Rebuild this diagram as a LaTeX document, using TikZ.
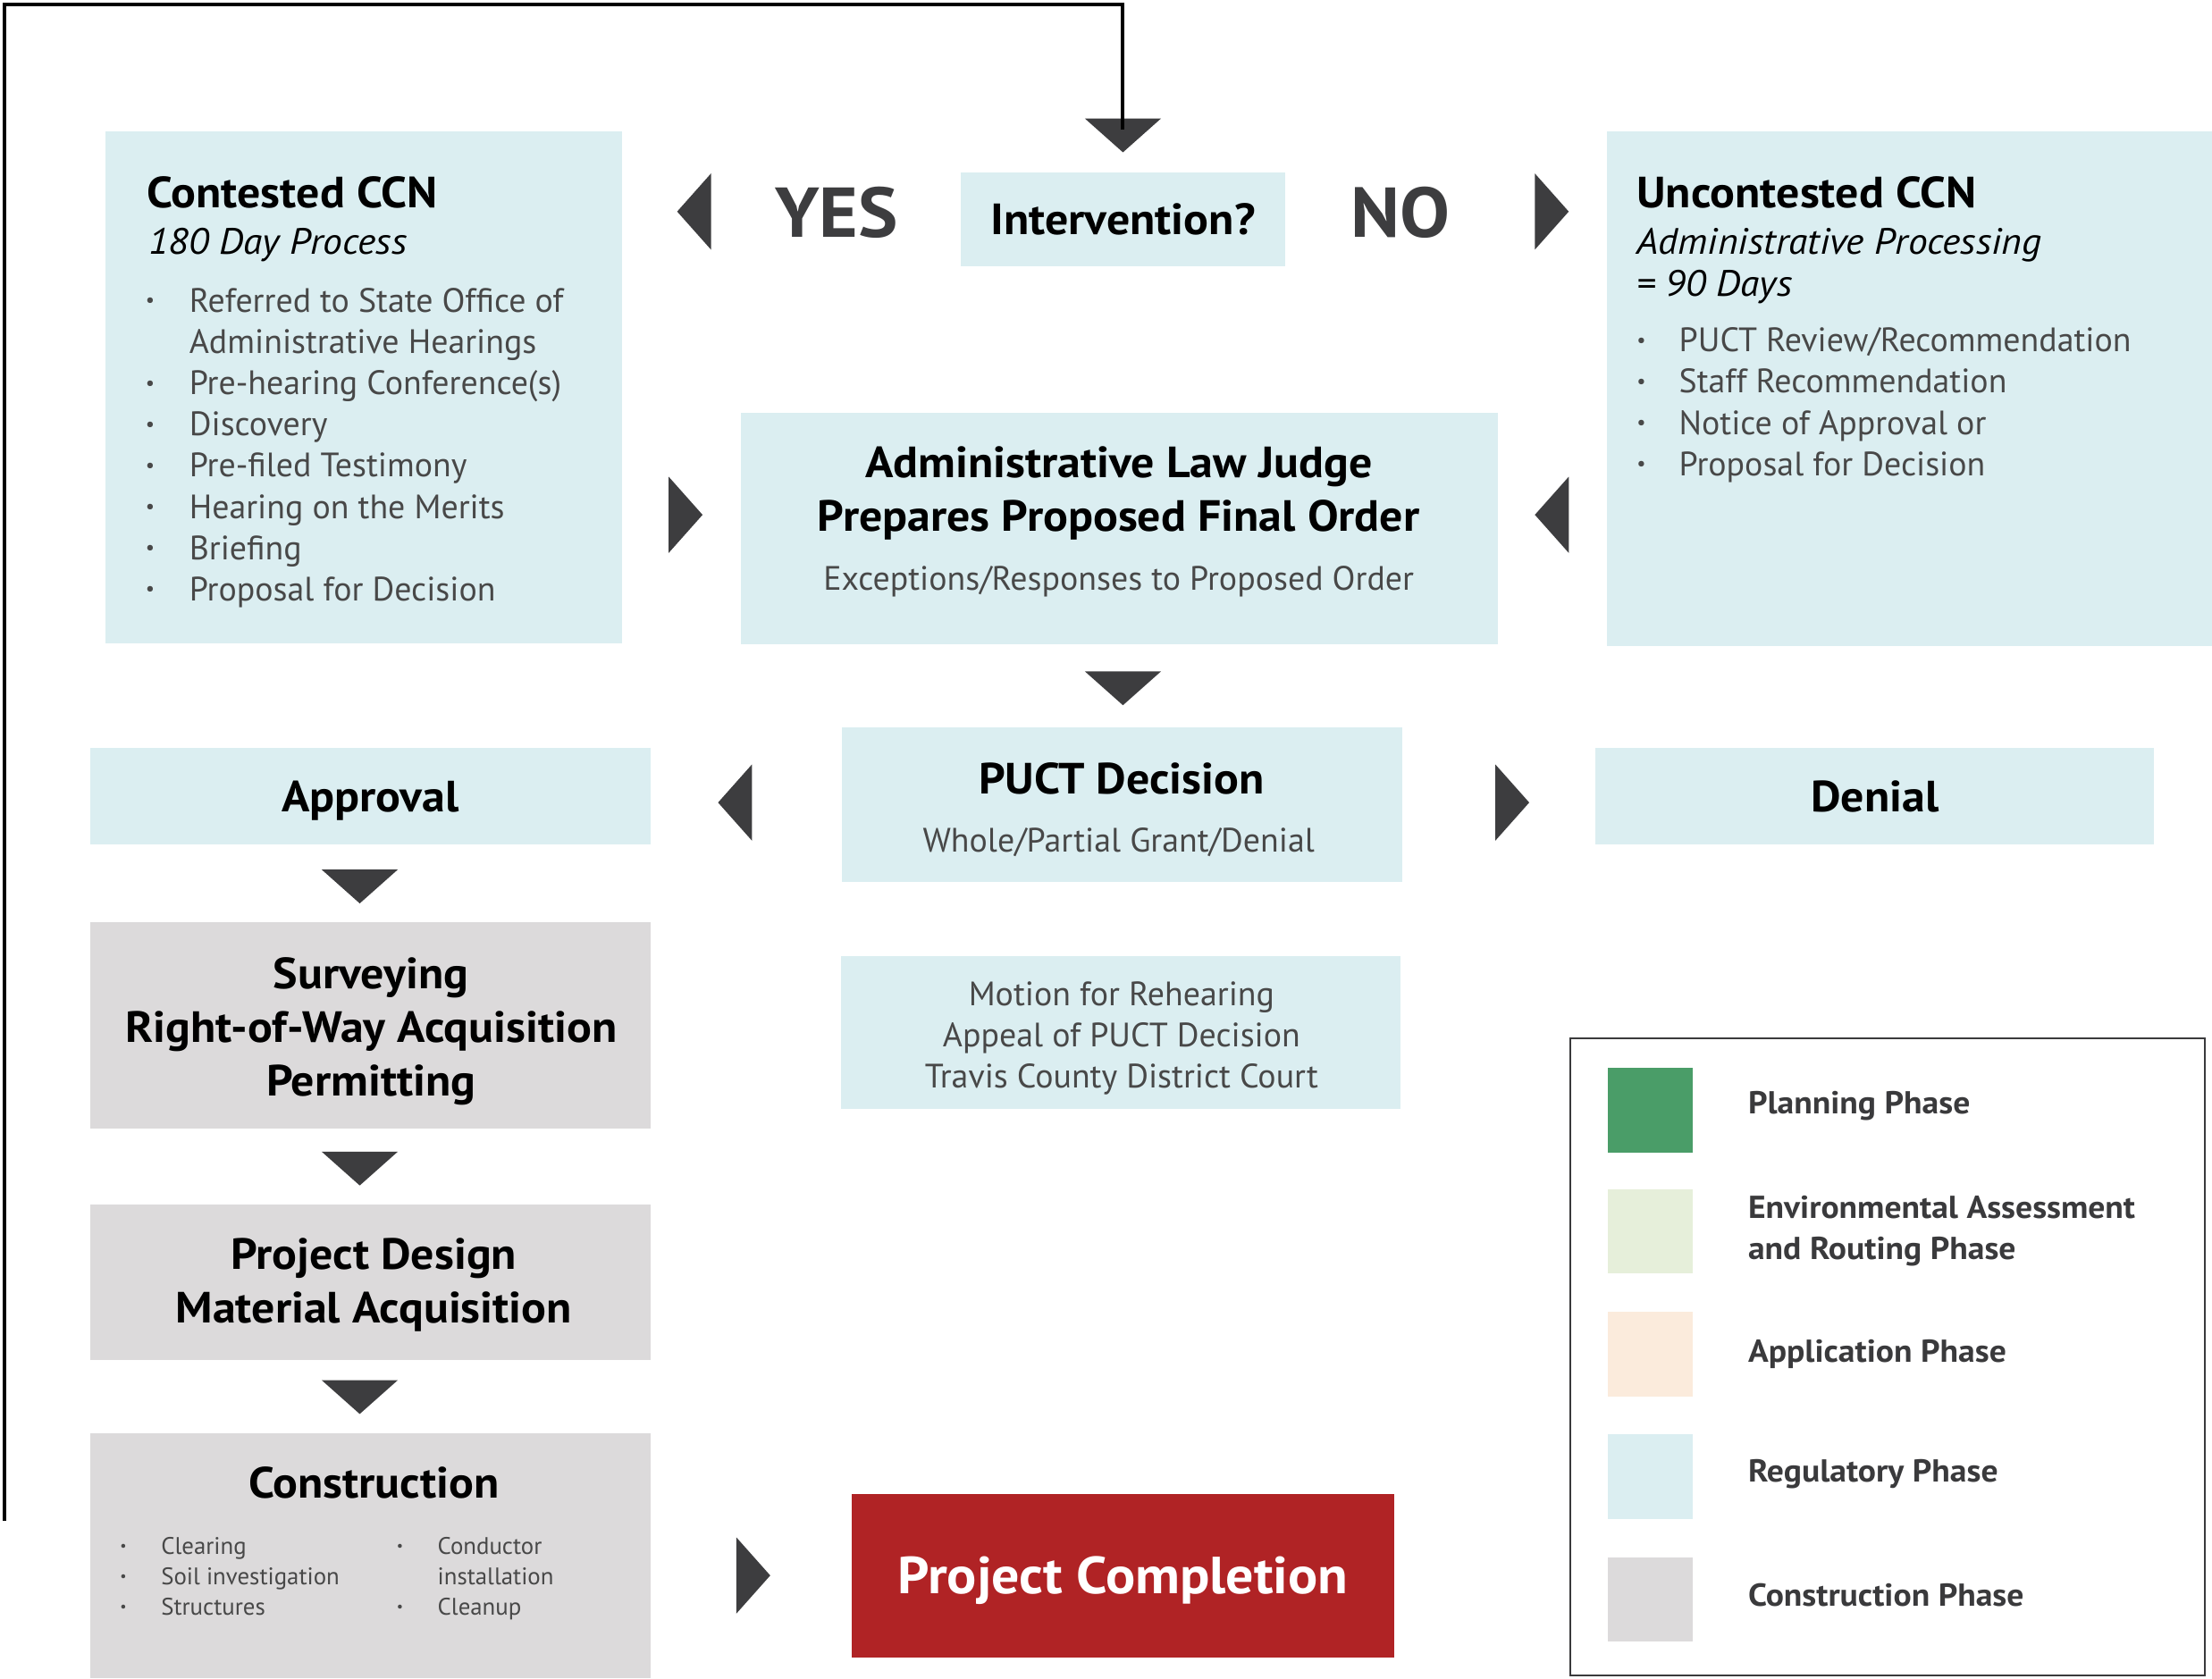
\documentclass[tikz,border=0pt]{standalone}
\usepackage{fontspec}
\setmainfont{PT Sans}[BoldFeatures={FakeStretch=1.06},ItalicFeatures={FakeStretch=1.06}]
\usetikzlibrary{calc}

\definecolor{regblue}{HTML}{DBEEF1}
\definecolor{congray}{HTML}{DCDADB}
\definecolor{arrowgray}{HTML}{3D3D3F}
\definecolor{bodygray}{HTML}{484848}
\definecolor{doneRed}{HTML}{B02325}
\definecolor{plangreen}{HTML}{4A9D68}
\definecolor{envgreen}{HTML}{E6EFDA}
\definecolor{apppeach}{HTML}{FBEBDC}
\definecolor{leggray}{HTML}{3A3A3C}

\newcommand{\bul}{\raisebox{0.3ex}{\scalebox{0.6}{\textbullet}}}

\begin{document}
\begin{tikzpicture}[x=1pt,y=-1pt,line join=miter,
  box/.style={anchor=north west,inner sep=0pt,outer sep=0pt},
  regbox/.style={box,fill=regblue},
  conbox/.style={box,fill=congray},
  head/.style={font=\bfseries\fontsize{31}{38}\selectfont,text=black,inner sep=0pt},
  body/.style={font=\fontsize{24}{29.2}\selectfont,text=bodygray,inner sep=0pt},
  subit/.style={font=\itshape\fontsize{26}{30}\selectfont,text=black,inner sep=0pt},
  smalltxt/.style={font=\fontsize{17}{21.5}\selectfont,text=bodygray,inner sep=0pt},
  yesno/.style={font=\bfseries\fontsize{50}{60}\selectfont,text=arrowgray,inner sep=0pt},
  legtxt/.style={font=\bfseries\fontsize{22.5}{29}\selectfont,text=leggray,inner sep=0pt,anchor=west,align=left},
  pointer/.style={fill=arrowgray},
  loopline/.style={line width=2.5pt,black},
  tridown/.pic={\fill[pointer] (-27,-12) -- (27,-12) -- (0,12) -- cycle;},
  trileft/.pic={\fill[pointer] (12,-27) -- (12,27) -- (-12,0) -- cycle;},
  triright/.pic={\fill[pointer] (-12,-27) -- (-12,27) -- (12,0) -- cycle;}]

  \useasboundingbox (0,0) rectangle (1568,1190);

  %-------------------------
  % Intervention question
  %-------------------------
  \node[regbox,head,minimum width=230,minimum height=67] (interv) at (681,122) {Intervention?};
  \node[yesno] (yes) at (593,151) {YES};
  \node[yesno] (no)  at (993,151) {NO};

  \pic at (796,96)   {tridown};   % into the question
  \pic at (492,150)  {trileft};   % yes
  \pic at (1100,150) {triright};  % no

  % loop back from construction
  \coordinate (loopstart) at (3,1078);
  \draw[loopline] (loopstart) -- (loopstart |- 0,3) -| ($(interv.north)+(0,-30)$);

  %-------------------------
  % Contested CCN
  %-------------------------
  \node[regbox,minimum width=366,minimum height=363] (contested) at (75,93) {};
  \node[head,anchor=base west] (contitle) at (104,147) {Contested CCN};
  \node[subit,anchor=base west] (consub) at (105,180) {180 Day Process};
  \node[body,anchor=base west] (conlist) at (103,221.5) {%
    \begin{tabular}[t]{@{}l@{}l@{}}
      \makebox[31pt][l]{\bul} & Referred to State Office of\\
                              & Administrative Hearings\\
      \bul & Pre-hearing Conference(s)\\
      \bul & Discovery\\
      \bul & Pre-filed Testimony\\
      \bul & Hearing on the Merits\\
      \bul & Briefing\\
      \bul & Proposal for Decision
    \end{tabular}};

  %-------------------------
  % Uncontested CCN
  %-------------------------
  \node[regbox,minimum width=429,minimum height=365] (uncontested) at (1139,93) {};
  \node[head,anchor=base west] (unctitle) at (1160,147) {Uncontested CCN};
  \node[subit,anchor=base west] (uncsub) at (1160,180) {%
    \begin{tabular}[t]{@{}l@{}}
      Administrative Processing\\
      = 90 Days
    \end{tabular}};
  \node[body,anchor=base west] (unclist) at (1160,249.5) {%
    \begin{tabular}[t]{@{}l@{}l@{}}
      \makebox[30pt][l]{\bul} & PUCT Review/Recommendation\\
      \bul & Staff Recommendation\\
      \bul & Notice of Approval or\\
      \bul & Proposal for Decision
    \end{tabular}};

  %-------------------------
  % Administrative Law Judge
  %-------------------------
  \node[regbox,minimum width=537,minimum height=164] (alj) at (525,293) {};
  \node[head,align=center] (aljtitle) at (793,350) {Administrative Law Judge\\Prepares Proposed Final Order};
  \node[body] (aljnote) at (793,412) {Exceptions/Responses to Proposed Order};

  \pic at (486,365)  {triright};  % from contested
  \pic at (1100,365) {trileft};   % from uncontested
  \pic at (796,488)  {tridown};

  %-------------------------
  % PUCT decision
  %-------------------------
  \node[regbox,minimum width=397,minimum height=109] (puct) at (597,516) {};
  \node[head] (puctitle) at (795,552) {PUCT Decision};
  \node[body] (puctnote) at (793,597) {Whole/Partial Grant/Denial};

  \node[regbox,head,minimum width=397,minimum height=69,text depth=0pt] (approval) at (64,530) {Approval};
  \node[regbox,head,minimum width=396,minimum height=69] (denial) at (1131,530) {Denial};

  \pic at (521,569)  {trileft};
  \pic at (1072,569) {triright};

  \node[regbox,minimum width=397,minimum height=108] (motion) at (596,678) {};
  \node[body,align=center] (motiontxt) at (795,736)
    {Motion for Rehearing\\Appeal of PUCT Decision\\Travis County District Court};

  %-------------------------
  % Construction phase
  %-------------------------
  \node[conbox,minimum width=397,minimum height=146] (survey) at (64,654) {};
  \node[head,align=center] (surveytxt) at (263,731)
    {Surveying\\Right-of-Way Acquisition\\Permitting};
  \node[conbox,minimum width=397,minimum height=110] (design) at (64,854) {};
  \node[head,align=center] (designtxt) at (265,911) {Project Design\\Material Acquisition};
  \node[conbox,minimum width=397,minimum height=174] (constr) at (64,1016) {};
  \node[head] (constitle) at (265,1051) {Construction};
  \node[smalltxt,anchor=base west] (conleft) at (85,1102) {%
    \begin{tabular}[t]{@{}l@{}l@{}}
      \makebox[29pt][l]{\bul} & Clearing\\
      \bul & Soil investigation\\
      \bul & Structures
    \end{tabular}};
  \node[smalltxt,anchor=base west] (conright) at (281,1102) {%
    \begin{tabular}[t]{@{}l@{}l@{}}
      \makebox[29pt][l]{\bul} & Conductor\\
           & installation\\
      \bul & Cleanup
    \end{tabular}};

  \pic at (255,628.5) {tridown};
  \pic at (255,828.5) {tridown};
  \pic at (255,990.5) {tridown};

  %-------------------------
  % Project completion
  %-------------------------
  \node[box,fill=doneRed,text=white,font=\bfseries\fontsize{37}{44}\selectfont,text depth=0pt,
        minimum width=384,minimum height=116] (done) at (604,1059) {Project Completion};
  \pic at (534,1117) {triright};

  %-------------------------
  % Legend
  %-------------------------
  \node[box,draw=leggray,line width=1.5pt,minimum width=450,minimum height=452] (legend) at (1113,736) {};

  \node[box,fill=plangreen,minimum size=60] (swplan) at (1140,757) {};
  \node[box,fill=envgreen,minimum size=60]  (swenv)  at (1140,843) {};
  \node[box,fill=apppeach,minimum size=60]  (swapp)  at (1140,930) {};
  \node[box,fill=regblue,minimum size=60]   (swreg)  at (1140,1017) {};
  \node[box,fill=congray,minimum size=60]   (swcon)  at (1140,1104) {};

  \node[legtxt] (lgplan) at (1239,784)  {Planning Phase};
  \node[legtxt] (lgenv)  at (1239,873)  {Environmental Assessment\\and Routing Phase};
  \node[legtxt] (lgapp)  at (1239,960)  {Application Phase};
  \node[legtxt] (lgreg)  at (1239,1045) {Regulatory Phase};
  \node[legtxt] (lgcon)  at (1239,1131) {Construction Phase};

\end{tikzpicture}
\end{document}
